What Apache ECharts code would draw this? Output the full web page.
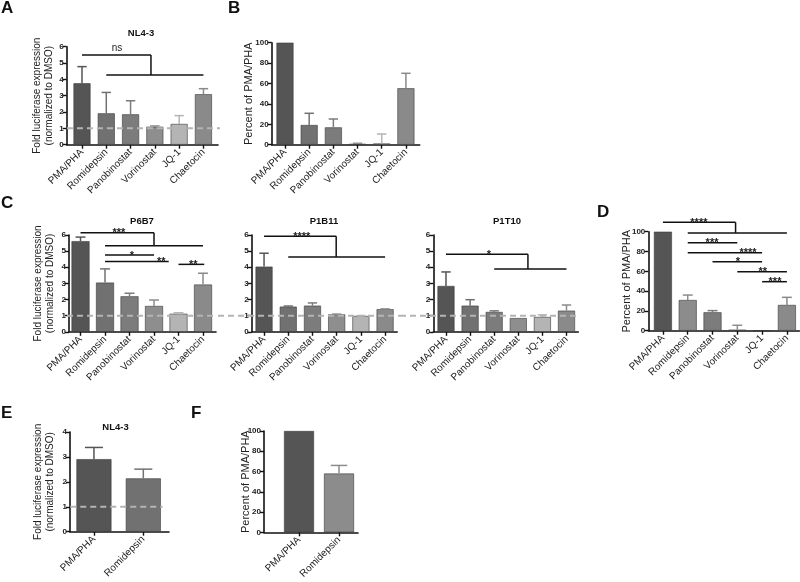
<!DOCTYPE html>
<html><head><meta charset="utf-8">
<script src="https://cdn.jsdelivr.net/npm/echarts@6/dist/echarts.min.js"></script>
<style>html,body{margin:0;padding:0;background:#fff}#c{width:800px;height:582px}</style>
</head><body><div id="c"></div>
<script>
// ---------- data ----------
const drugs = ['PMA/PHA','Romidepsin','Panobinostat','Vorinostat','JQ-1','Chaetocin'];
const drugsEF = ['PMA/PHA','Romidepsin'];
const titleA = 'NL4-3';
const titlesC = ['P6B7','P1B11','P1T10'];
const titleE = 'NL4-3';
const letters = ['A','B','C','D','E','F'];
const foldName = 'Fold luciferase expression\n(normalized to DMSO)';
const pctName = 'Percent of PMA/PHA';
const dmsoLevel = 1;

const aMean = [3.76, 1.92, 1.86, 1.10, 1.27, 3.09];
const aSem  = [1.02, 1.28, 0.83, 0.05, 0.51, 0.34];
const bMean = [100, 19.3, 17.0, 0.8, 1.2, 55.3];
const bSem  = [0, 11.5, 8.2, 0.6, 9.3, 14.7];
const c1Mean = [5.62, 3.05, 2.20, 1.60, 1.12, 2.93];
const c1Sem  = [0.25, 0.85, 0.19, 0.37, 0.06, 0.70];
const c2Mean = [4.04, 1.56, 1.62, 1.08, 0.98, 1.40];
const c2Sem  = [0.83, 0.04, 0.17, 0.02, 0.02, 0.02];
const c3Mean = [2.84, 1.62, 1.23, 0.85, 0.92, 1.31];
const c3Sem  = [0.87, 0.37, 0.07, 0, 0.13, 0.35];
const dMean = [100, 31, 18.6, 1.0, 0, 26];
const dSem  = [0, 5, 1.7, 4.5, 0, 7.7];
const eMean = [2.91, 2.14];
const eSem  = [0.47, 0.37];
const fMean = [100, 58];
const fSem  = [0, 8];

// significance brackets (category index / value units)
const sigA  = [{from:0,to:2.84,y:5.49,drop:4.27,sub:[1,5],text:'ns',tx:1.44}];
const sigB  = [];
const sigC1 = [{from:0,to:3.0,y:6.14,drop:5.34,sub:[1,5],text:'***',tx:1.57},
               {from:1,to:3,y:4.76,text:'*',tx:2.1},
               {from:1,to:3.6,y:4.35,text:'**',tx:3.3},
               {from:4,to:5.05,y:4.18,text:'**',tx:4.6}];
const sigC2 = [{from:0,to:2.98,y:5.92,drop:4.64,sub:[1,5],text:'****',tx:1.56}];
const sigC3 = [{from:0,to:3.4,y:4.8,drop:3.89,sub:[2,5],text:'*',tx:1.78}];
const sigD  = [{from:0,to:2.93,y:109.5,drop:98.7,sub:[1,5],text:'****',tx:1.45},
               {from:1,to:3,y:88.9,text:'***',tx:1.98},
               {from:1,to:4,y:78.8,text:'****',tx:3.43},
               {from:2,to:4,y:69.7,text:'*',tx:3.02},
               {from:3,to:5,y:59.6,text:'**',tx:4.03},
               {from:4,to:5,y:49.5,text:'***',tx:4.52}];

// ---------- styles / layout ----------
const FONT = 'Liberation Sans, Arial, Helvetica, sans-serif';
const colsStd = ['#555555','#717171','#7c7c7c','#8e8e8e','#b4b4b4','#8a8a8a'];
const colsD   = ['#555555','#8c8c8c','#7c7c7c','#8e8e8e','#b4b4b4','#8a8a8a'];
const colsE   = ['#555555','#717171'];
const colsF   = ['#555555','#8c8c8c'];

const panels = [
  {names:drugs, mean:aMean, sem:aSem, cols:colsStd, sig:sigA, grid:{left:66.7,top:46.7,width:151.3,height:98}, xr:[-0.63,5.6], yr:[0,6,1], bw:17, ref:[-0.62,5.68], name:foldName, gap:11, nsize:10},
  {names:drugs, mean:bMean, sem:bSem, cols:colsStd, sig:sigB, grid:{left:271.7,top:42.7,width:148,height:102}, xr:[-0.55,5.57], yr:[0,100,20], bw:17, ref:null, name:pctName, gap:17, nsize:11},
  {names:drugs, mean:c1Mean, sem:c1Sem, cols:colsStd, sig:sigC1, grid:{left:69,top:235,width:147,height:96.8}, xr:[-0.47,5.53], yr:[0,6,1], bw:18, ref:[-0.55,5.57], name:foldName, gap:13, nsize:10},
  {names:drugs, mean:c2Mean, sem:c2Sem, cols:colsStd, sig:sigC2, grid:{left:251.7,top:235,width:145.5,height:96.8}, xr:[-0.51,5.5], yr:[0,6,1], bw:17, ref:[-1.9,5.62], name:'', gap:10, nsize:10},
  {names:drugs, mean:c3Mean, sem:c3Sem, cols:colsStd, sig:sigC3, grid:{left:433.3,top:235,width:145,height:96.8}, xr:[-0.527,5.49], yr:[0,6,1], bw:17, ref:[-1.91,5.56], name:'', gap:10, nsize:10},
  {names:drugs, mean:dMean, sem:dSem, cols:colsD, sig:sigD, grid:{left:648.3,top:231.7,width:151,height:99}, xr:[-0.59,5.5], yr:[0,100,20], bw:18, ref:null, name:pctName, gap:15.5, nsize:11},
  {names:drugsEF, mean:eMean, sem:eSem, cols:colsE, sig:[], grid:{left:70,top:432,width:99,height:99.7}, xr:[-0.485,1.52], yr:[0,4,1], bw:35, ref:[-0.48,1.39], name:foldName, gap:14, nsize:10},
  {names:drugsEF, mean:fMean, sem:fSem, cols:colsF, sig:[], grid:{left:264,top:431,width:94,height:101.3}, xr:[-0.875,1.475], yr:[0,100,20], bw:30, ref:null, name:pctName, gap:12, nsize:11}
];

const grids=[], xAxes=[], yAxes=[], series=[];
panels.forEach((p, i) => {
  grids.push(Object.assign({containLabel:false, outerBoundsMode:'none'}, p.grid));
  const idx = p.names.map((_, j) => j);
  xAxes.push({
    type:'value', gridIndex:i, min:p.xr[0], max:p.xr[1],
    splitLine:{show:false},
    axisLine:{show:true, onZero:false, lineStyle:{color:'#111', width:1.6}},
    axisTick:{show:true, customValues:idx, length:4, lineStyle:{color:'#111', width:1.4}},
    axisLabel:{customValues:idx, rotate:45, margin:6, fontSize:10, color:'#222', fontFamily:FONT,
               formatter:(v) => p.names[Math.round(v)] || ''}
  });
  yAxes.push({
    type:'value', gridIndex:i, min:p.yr[0], max:p.yr[1], interval:p.yr[2],
    splitLine:{show:false},
    axisLine:{show:true, onZero:false, lineStyle:{color:'#111', width:1.6}},
    axisTick:{show:true, length:4, lineStyle:{color:'#111', width:1.4}},
    axisLabel:{fontSize:8, fontWeight:'bold', color:'#222', margin:3, fontFamily:FONT},
    name:p.name, nameLocation:'middle', nameGap:p.gap, nameMoveOverlap:false,
    nameTextStyle:{fontSize:p.nsize, color:'#222', lineHeight:12, fontFamily:FONT}
  });
  // bars
  series.push({
    type:'bar', xAxisIndex:i, yAxisIndex:i, barWidth:p.bw,
    data:p.mean.map((m, j) => ({value:[j, m], itemStyle:{color:p.cols[j], borderColor:'#3a3a3a', borderWidth:0.6}})),
    z:2
  });
  // error bars (upper whisker only)
  const capW = Math.min(p.bw * 0.55, 18);
  series.push({
    type:'custom', xAxisIndex:i, yAxisIndex:i, z:3,
    data:p.mean.map((m, j) => [j, m, m + p.sem[j]]),
    encode:{x:0, y:[1,2]},
    renderItem:(params, api) => {
      const x = api.value(0), lo = api.value(1), hi = api.value(2);
      if (!(hi > lo)) return null;
      const a = api.coord([x, lo]), b = api.coord([x, hi]);
      const col = p.cols[params.dataIndex];
      const st = {stroke:col, lineWidth:1.5, lineCap:'butt'};
      return {type:'group', children:[
        {type:'line', shape:{x1:a[0], y1:a[1], x2:b[0], y2:b[1]}, style:st},
        {type:'line', shape:{x1:b[0]-capW/2, y1:b[1], x2:b[0]+capW/2, y2:b[1]}, style:st}
      ]};
    }
  });
  // DMSO reference dashed line
  if (p.ref) {
    series.push({
      type:'custom', xAxisIndex:i, yAxisIndex:i, z:4,
      data:[[p.ref[0], dmsoLevel, p.ref[1]]],
      encode:{x:0, y:1},
      renderItem:(params, api) => {
        const a = api.coord([api.value(0), api.value(1)]);
        const b = api.coord([api.value(2), api.value(1)]);
        return {type:'line', shape:{x1:a[0], y1:a[1], x2:b[0], y2:b[1]},
                style:{stroke:'#b4b4b4', lineWidth:2, lineDash:[6,4]}};
      }
    });
  }
  // significance brackets
  if (p.sig.length) {
    series.push({
      type:'custom', xAxisIndex:i, yAxisIndex:i, z:5,
      data:p.sig.map(s => [s.tx, s.y]),
      encode:{x:0, y:1},
      renderItem:(params, api) => {
        const s = p.sig[params.dataIndex];
        const st = {stroke:'#111', lineWidth:1.5};
        const c = (x, y) => api.coord([x, y]);
        const kids = [];
        const t1 = c(s.from, s.y), t2 = c(s.to, s.y);
        kids.push({type:'line', shape:{x1:t1[0], y1:t1[1], x2:t2[0], y2:t2[1]}, style:st});
        if (s.drop != null) {
          const d = c(s.to, s.drop);
          kids.push({type:'line', shape:{x1:t2[0], y1:t2[1], x2:d[0], y2:d[1]}, style:st});
          const u1 = c(s.sub[0], s.drop), u2 = c(s.sub[1], s.drop);
          kids.push({type:'line', shape:{x1:u1[0], y1:u1[1], x2:u2[0], y2:u2[1]}, style:st});
        }
        const tp = c(s.tx, s.y);
        const star = s.text.indexOf('*') >= 0;
        kids.push({type:'text', x:tp[0], y:tp[1] + (star ? 0.5 : -6.5),
          style:{text:s.text, fill:'#222', font:(star ? 'bold 11px ' : '10px ') + FONT,
                 align:'center', verticalAlign:'middle', textAlign:'center', textVerticalAlign:'middle'}});
        return {type:'group', children:kids};
      }
    });
  }
});

// titles and panel letters as text
const txt = (text, x, y, font, align) => ({type:'text', x:x, y:y, silent:true,
  style:{text:text, font:font, fill:'#111', align:align, verticalAlign:'middle', textAlign:align, textVerticalAlign:'middle'}});
const letterPos = [[1,8],[228,8],[1,203],[597,212],[1,413],[191,413]];
const titlePos = [[141,33.5,titleA],[142,221,titlesC[0]],[324,221,titlesC[1]],[507,221,titlesC[2]],[115.5,427,titleE]];
const graphics = [];
letters.forEach((l, k) => graphics.push(txt(l, letterPos[k][0], letterPos[k][1], 'bold 17px ' + FONT, 'left')));
titlePos.forEach(t => graphics.push(txt(t[2], t[0], t[1], 'bold 9.5px ' + FONT, 'center')));

const chart = echarts.init(document.getElementById('c'), null, {renderer:'canvas'});
chart.setOption({
  animation:false,
  backgroundColor:'#fff',
  textStyle:{fontFamily:FONT},
  grid:grids, xAxis:xAxes, yAxis:yAxes, series:series,
  graphic:graphics
});
</script>
</body></html>
